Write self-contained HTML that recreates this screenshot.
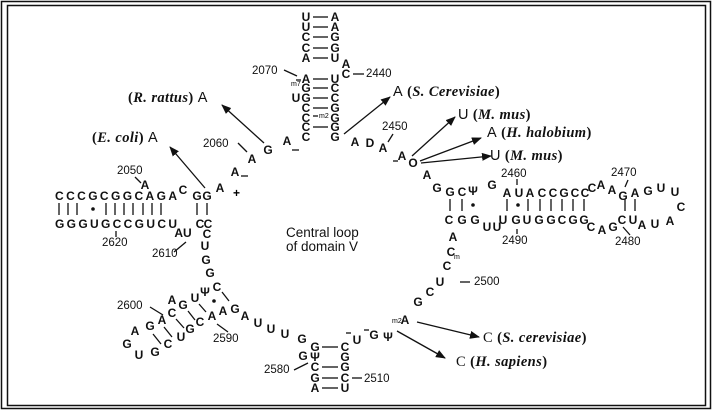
<!DOCTYPE html>
<html><head><meta charset="utf-8"><style>
html,body{margin:0;padding:0;background:#fff;}
svg{display:block;}
.n{font-family:"Liberation Sans",sans-serif;font-size:12px;font-weight:bold;fill:#111;text-anchor:middle;dominant-baseline:central;}
.s{font-family:"Liberation Sans",sans-serif;font-size:11.5px;fill:#111;dominant-baseline:central;}
.l{font-family:"Liberation Serif",serif;font-size:14.5px;font-weight:bold;fill:#111;dominant-baseline:central;letter-spacing:0.4px;}
.c{font-family:"Liberation Sans",sans-serif;font-size:13.5px;fill:#111;}
line{stroke:#111;stroke-width:1.3;}
</style></head><body>
<svg width="715" height="411" viewBox="0 0 715 411" xmlns="http://www.w3.org/2000/svg">
<defs><marker id="ar" markerWidth="10" markerHeight="8" refX="9" refY="4" orient="auto" markerUnits="userSpaceOnUse"><path d="M0,0 L10,4 L0,8 z" fill="#111"/></marker></defs>
<rect x="1.5" y="1.5" width="709" height="407" fill="none" stroke="#111" stroke-width="1.5"/>
<rect x="7.5" y="5.5" width="698" height="400" fill="none" stroke="#111" stroke-width="1.5"/>

<!-- top stem -->
<g class="n">
<text x="306" y="17">U</text><text x="335" y="17">A</text>
<text x="306" y="27">U</text><text x="335" y="27">A</text>
<text x="306" y="37">C</text><text x="335" y="37">G</text>
<text x="306" y="48">C</text><text x="335" y="48">G</text>
<text x="306" y="58">A</text><text x="335" y="58">U</text>
<text x="306" y="79">A</text><text x="335" y="79">U</text>
<text x="306" y="88">G</text><text x="335" y="88">C</text>
<text x="306" y="98">G</text><text x="296" y="98">U</text><text x="335" y="98">C</text>
<text x="306" y="108">C</text><text x="335" y="108">G</text>
<text x="306" y="118">C</text><text x="335" y="118">G</text>
<text x="306" y="127">C</text><text x="335" y="127">G</text>
<text x="306" y="137">C</text><text x="335" y="137">G</text>
<text x="346" y="64">A</text><text x="346" y="74">C</text>
</g>
<text x="291" y="86" style="font-family:'Liberation Sans';font-size:7px">m7</text>
<text x="319" y="118" style="font-family:'Liberation Sans';font-size:7px">m2</text>
<g>
<line x1="313" y1="17" x2="328" y2="17"/><line x1="313" y1="27" x2="328" y2="27"/><line x1="313" y1="37" x2="328" y2="37"/><line x1="313" y1="48" x2="328" y2="48"/><line x1="313" y1="58" x2="328" y2="58"/>
<line x1="313" y1="79" x2="328" y2="79"/><line x1="313" y1="88" x2="328" y2="88"/><line x1="313" y1="98" x2="328" y2="98"/><line x1="313" y1="108" x2="328" y2="108"/><line x1="313" y1="116" x2="318" y2="116"/><line x1="313" y1="127" x2="328" y2="127"/>
<line x1="353" y1="74" x2="364" y2="74"/>
<line x1="284" y1="70" x2="297" y2="76"/><line x1="296" y1="80" x2="301" y2="80"/>
</g>
<text class="s" x="366" y="74">2440</text>
<text class="s" x="252" y="71">2070</text>

<!-- left labels and arrows -->
<text class="l" x="128" y="98">(<tspan font-style="italic">R. rattus</tspan>) <tspan font-family="Liberation Sans" font-weight="normal">A</tspan></text>
<text class="l" x="92" y="138">(<tspan font-style="italic">E. coli</tspan>) <tspan font-family="Liberation Sans" font-weight="normal">A</tspan></text>
<line x1="264" y1="143" x2="222" y2="105" marker-end="url(#ar)"/>
<line x1="205" y1="188" x2="170" y2="147" marker-end="url(#ar)"/>
<text class="s" x="203" y="144">2060</text>
<line x1="238" y1="143" x2="247" y2="152"/>
<g class="n">
<text x="252" y="159">A</text><text x="268" y="150">G</text><text x="287" y="141">A</text>
<text x="235" y="172">A</text><text x="220" y="188">A</text>
</g>
<line x1="292" y1="150" x2="299" y2="150"/><line x1="241" y1="176" x2="248" y2="176"/>
<text x="233" y="197" style="font-family:'Liberation Sans';font-size:12px;font-weight:bold">+</text>

<!-- left stem -->
<text class="s" x="117" y="171">2050</text><line x1="135" y1="177" x2="141" y2="183"/>
<text class="n" x="145" y="185">A</text>
<text class="n" x="55" y="196" textLength="122" lengthAdjust="spacing" style="text-anchor:start">CCCGCGGCAGA</text>
<text class="n" x="183" y="190">C</text><text class="n" x="197" y="196">G</text><text class="n" x="207" y="196">G</text>
<g>
<line x1="59" y1="203" x2="59" y2="215"/><line x1="68" y1="203" x2="68" y2="215"/><line x1="77" y1="203" x2="77" y2="215"/>
<line x1="106" y1="203" x2="106" y2="215"/><line x1="115" y1="203" x2="115" y2="215"/><line x1="124" y1="203" x2="124" y2="215"/><line x1="133" y1="203" x2="133" y2="215"/><line x1="143" y1="203" x2="143" y2="215"/><line x1="152" y1="203" x2="152" y2="215"/><line x1="161" y1="203" x2="161" y2="215"/>
<line x1="197" y1="203" x2="197" y2="215"/><line x1="207" y1="203" x2="207" y2="215"/>
</g>
<circle cx="93" cy="209" r="1.8" fill="#111"/>
<text class="n" x="55" y="224" textLength="122" lengthAdjust="spacing" style="text-anchor:start">GGGUGCCGUCU</text>
<text class="n" x="200" y="224">C</text><text class="n" x="208" y="224">C</text>
<line x1="116" y1="231" x2="116" y2="237"/><text class="s" x="102" y="243">2620</text>
<text class="n" x="183" y="233">AU</text>
<text class="s" x="152" y="254">2610</text><line x1="174" y1="252" x2="186" y2="242"/>
<g class="n">
<text x="207" y="234">C</text><text x="205" y="246">U</text><text x="206" y="260">G</text><text x="210" y="273">G</text>
<text x="217" y="287">C</text><text x="205" y="292">Ψ</text><text x="195" y="298">U</text><text x="183" y="305">G</text><text x="172" y="300">A</text>
<text x="172" y="313">C</text><text x="162" y="320">A</text><text x="150" y="326">G</text><text x="135" y="331">A</text><text x="127" y="344">G</text><text x="139" y="355">U</text>
<text x="155" y="352">G</text><text x="168" y="344">C</text><text x="181" y="337">U</text><text x="190" y="329">G</text><text x="200" y="322">C</text><text x="212" y="316">A</text><text x="223" y="311">A</text>
<text x="235" y="309">G</text><text x="245" y="316">A</text><text x="258" y="323">U</text><text x="271" y="329">U</text><text x="285" y="334">U</text><text x="302" y="339">G</text>
</g>
<circle cx="214" cy="301" r="1.8" fill="#111"/>
<g>
<line x1="222" y1="292" x2="229" y2="301"/><line x1="199" y1="304" x2="206" y2="312"/><line x1="188" y1="311" x2="195" y2="320"/><line x1="176" y1="319" x2="184" y2="328"/><line x1="164" y1="327" x2="172" y2="337"/><line x1="153" y1="334" x2="161" y2="344"/>
<line x1="217" y1="324" x2="228" y2="332"/><line x1="150" y1="307" x2="163" y2="315"/>
</g>
<text class="s" x="213" y="339">2590</text>
<text class="s" x="117" y="306">2600</text>

<!-- bottom stem -->
<g class="n">
<text x="315" y="347">G</text><text x="345" y="347">C</text>
<text x="303" y="356">G</text><text x="315" y="357">Ψ</text><text x="345" y="357">G</text>
<text x="315" y="367">C</text><text x="345" y="367">G</text>
<text x="315" y="378">G</text><text x="345" y="378">C</text>
<text x="315" y="388">A</text><text x="345" y="388">U</text>
<text x="357" y="340">U</text><text x="374" y="335">G</text><text x="388" y="337">Ψ</text><text x="405" y="320">A</text>
<text x="418" y="302">G</text><text x="430" y="292">C</text><text x="440" y="282">U</text><text x="447" y="266">C</text><text x="451" y="252">C</text><text x="453" y="237">A</text>
</g>
<text x="454" y="259" style="font-family:'Liberation Sans';font-size:7px">m</text>
<text x="392" y="323" style="font-family:'Liberation Sans';font-size:7px">m2</text>
<g>
<line x1="322" y1="347" x2="338" y2="347"/><line x1="322" y1="367" x2="338" y2="367"/><line x1="322" y1="378" x2="338" y2="378"/><line x1="322" y1="388" x2="338" y2="388"/>
<line x1="352" y1="378" x2="362" y2="378"/><line x1="294" y1="370" x2="308" y2="363"/>
<line x1="346" y1="333" x2="351" y2="333"/><line x1="364" y1="330" x2="369" y2="330"/>
<line x1="460" y1="282" x2="470" y2="282"/>
</g>
<text class="s" x="364" y="379">2510</text>
<text class="s" x="264" y="370">2580</text>
<text class="s" x="474" y="282">2500</text>
<line x1="417" y1="322" x2="479" y2="337" marker-end="url(#ar)"/>
<line x1="397" y1="331" x2="445" y2="358" marker-end="url(#ar)"/>
<text class="l" x="483" y="338"><tspan font-weight="normal">C</tspan> (<tspan font-style="italic">S. cerevisiae</tspan>)</text>
<text class="l" x="456" y="362"><tspan font-weight="normal">C</tspan> (<tspan font-style="italic">H. sapiens</tspan>)</text>

<!-- central label -->
<text class="c" x="286" y="237">Central loop</text>
<text class="c" x="286" y="251">of domain V</text>

<!-- top right -->
<g class="n">
<text x="355" y="142">A</text><text x="370" y="143">D</text><text x="383" y="148">A</text><text x="402" y="156">A</text><text x="413" y="163">O</text><text x="427" y="175">A</text>
</g>
<line x1="393" y1="161" x2="398" y2="161"/>
<text class="s" x="382" y="127">2450</text><line x1="393" y1="134" x2="388" y2="142"/>
<line x1="344" y1="134" x2="390" y2="97" marker-end="url(#ar)"/>
<line x1="412" y1="156" x2="455" y2="117" marker-end="url(#ar)"/>
<line x1="420" y1="161" x2="481" y2="138" marker-end="url(#ar)"/>
<line x1="421" y1="163" x2="491" y2="156" marker-end="url(#ar)"/>
<text class="l" x="393" y="92"><tspan font-family="Liberation Sans" font-weight="normal">A</tspan> (<tspan font-style="italic">S. Cerevisiae</tspan>)</text>
<text class="l" x="458" y="115"><tspan font-family="Liberation Sans" font-weight="normal">U</tspan> (<tspan font-style="italic">M. mus</tspan>)</text>
<text class="l" x="487" y="133"><tspan font-family="Liberation Sans" font-weight="normal">A</tspan> (<tspan font-style="italic">H. halobium</tspan>)</text>
<text class="l" x="490" y="156"><tspan font-family="Liberation Sans" font-weight="normal">U</tspan> (<tspan font-style="italic">M. mus</tspan>)</text>

<!-- right stem -->
<g class="n">
<text x="437" y="188">G</text><text x="450" y="192">G</text><text x="462" y="192">C</text><text x="473" y="191">Ψ</text><text x="492" y="185">G</text>
<text x="507" y="193">A</text><text x="519" y="193">U</text><text x="530" y="193">A</text><text x="542" y="193">C</text><text x="553" y="193">C</text><text x="564" y="193">G</text><text x="575" y="193">C</text><text x="585" y="193">C</text>
<text x="592" y="188">C</text><text x="601" y="185">A</text><text x="612" y="190">A</text>
<text x="623" y="196">G</text><text x="635" y="193">A</text><text x="648" y="191">G</text><text x="661" y="188">U</text><text x="675" y="192">U</text>
<text x="681" y="207">C</text>
<text x="449" y="220">C</text><text x="462" y="220">G</text><text x="475" y="220">G</text><text x="487" y="227">U</text><text x="497" y="227">U</text>
<text x="503" y="220">U</text><text x="516" y="220">G</text><text x="527" y="220">U</text><text x="539" y="220">G</text><text x="551" y="220">G</text><text x="562" y="220">C</text><text x="573" y="220">G</text><text x="584" y="220">G</text>
<text x="591" y="227">C</text><text x="602" y="230">A</text><text x="613" y="227">G</text><text x="622" y="220">C</text><text x="633" y="220">U</text>
<text x="642" y="225">A</text><text x="655" y="224">U</text><text x="670" y="221">A</text>
</g>
<text class="s" x="501" y="174">2460</text><line x1="517" y1="179" x2="517" y2="185"/>
<text class="s" x="611" y="173">2470</text><line x1="628" y1="180" x2="625" y2="187"/>
<text class="s" x="502" y="241">2490</text><line x1="517" y1="229" x2="517" y2="234"/>
<text class="s" x="615" y="242">2480</text><line x1="623" y1="227" x2="630" y2="235"/>
<g>
<line x1="450" y1="199" x2="450" y2="211"/><line x1="462" y1="199" x2="462" y2="211"/>
<line x1="507" y1="199" x2="507" y2="211"/>
<line x1="528" y1="199" x2="528" y2="211"/><line x1="540" y1="199" x2="540" y2="211"/><line x1="551" y1="199" x2="551" y2="211"/><line x1="562" y1="199" x2="562" y2="211"/><line x1="573" y1="199" x2="573" y2="211"/><line x1="584" y1="199" x2="584" y2="211"/>
<line x1="625" y1="199" x2="625" y2="211"/><line x1="635" y1="199" x2="635" y2="211"/>
</g>
<circle cx="473" cy="205" r="1.8" fill="#111"/><circle cx="518" cy="205" r="1.8" fill="#111"/>
</svg>
</body></html>
